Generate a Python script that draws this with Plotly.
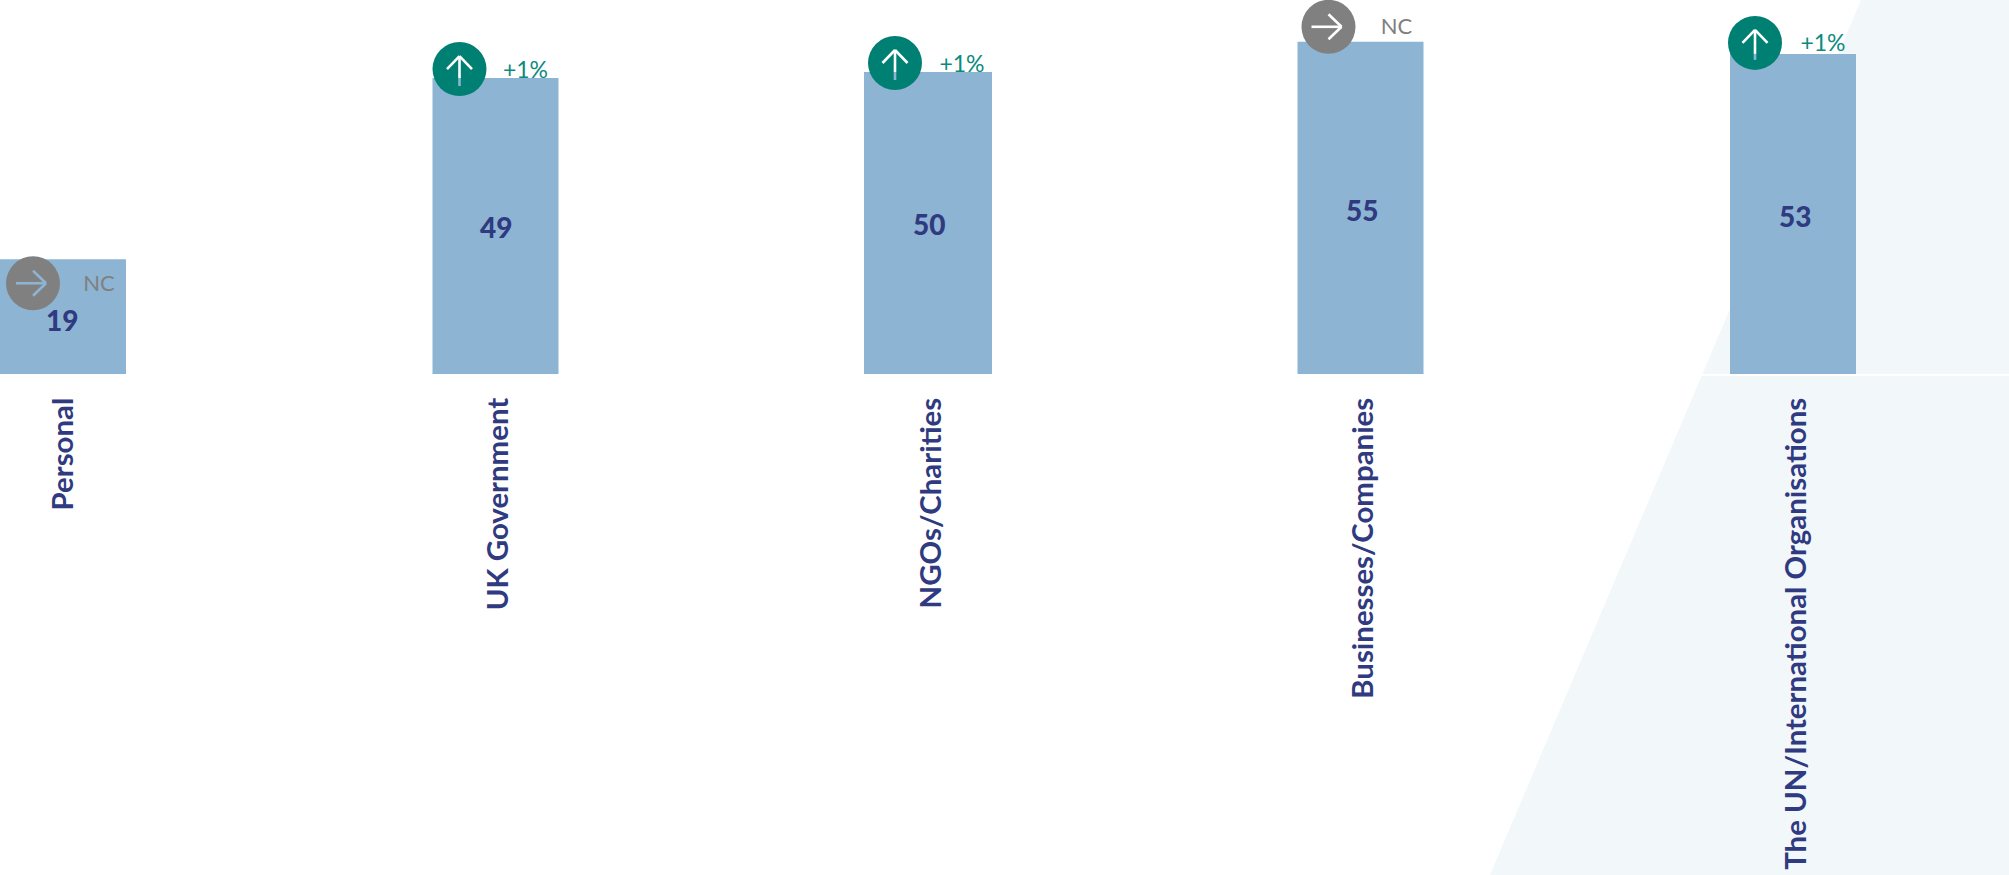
import plotly.graph_objects as go

# ---- data ----
categories = ["Personal", "UK Government", "NGOs/Charities", "Businesses/Companies",
              "The UN/International Organisations"]
values = [19, 49, 50, 55, 53]
change_labels = ["NC", "+1%", "+1%", "NC", "+1%"]
directions = ["right", "up", "up", "right", "up"]

# ---- styles / layout ----
W, H = 2009, 875
BASE_PX = 374
PX_PER_UNIT = 6.04
FIRST_CENTER_PX, STEP_PX = 63, 432.5
BAR_W_PX = [126, 126, 128, 126, 126]
NAVY, BAR, TEAL, GREY, BAND = "#2F3A80", "#8DB4D2", "#007F73", "#808080", "#F2F7FA"
TEAL_TXT = "#0C8A7D"
FONT = "Lato"
TICK_SHIFT_PX = [0.5, 3, 3, 3, 3]

# badge offset from the bar's top-left corner, px (right, down)
badge_dx = [33, 27, 31, 31, 25]
badge_dy = [24, -9, -9, -15, -11]
# change label offset from the bar's top-right corner, px (left, down)
label_dx = [27, 33, 30, 27, 33]
label_dy = [26, -6, -6, -13, -9]
# value label nudges, px
value_dx = [-1, 0, 1, 1, 2]
value_dy = [3, 1, 1, 2, 2]

ymax = BASE_PX / PX_PER_UNIT
x_of_px = lambda p: (p - FIRST_CENTER_PX) / STEP_PX
y_of_px = lambda p: (BASE_PX - p) / PX_PER_UNIT
xs = list(range(len(values)))

fig = go.Figure()

fig.add_trace(go.Bar(
    x=xs, y=values, width=[w / STEP_PX for w in BAR_W_PX], marker=dict(color=BAR, line_width=0),
    hoverinfo="skip",
))

cxs, cys, ccols, tx, ty = [], [], [], [], []
for i, v in enumerate(values):
    center = FIRST_CENTER_PX + i * STEP_PX
    left, right = center - BAR_W_PX[i] / 2, center + BAR_W_PX[i] / 2
    top = BASE_PX - v * PX_PER_UNIT
    cx, cy = left + badge_dx[i], top + badge_dy[i]
    cxs.append(x_of_px(cx)); cys.append(y_of_px(cy))
    ccols.append(TEAL if directions[i] == "up" else GREY)
    tx.append(x_of_px(right - label_dx[i])); ty.append(y_of_px(top + label_dy[i]))

fig.add_trace(go.Scatter(x=cxs, y=cys, mode="markers", hoverinfo="skip",
                         marker=dict(size=54, color=ccols, line_width=0)))

# arrow glyphs: a cut-out, so they show white above the bar and bar colour over it
ARROWS = {
    "up": [[(0, 17), (0, -13)], [(-12.5, 0), (0, -13), (12.5, 0)]],
    "right": [[(-17, 0), (13, 0)], [(0, -12.5), (13, 0), (0, 12.5)]],
}
def split_at(p, q, yt):
    if (p[1] - yt) * (q[1] - yt) >= 0:
        return [(p, q)]
    t = (yt - p[1]) / (q[1] - p[1])
    m = (p[0] + t * (q[0] - p[0]), yt)
    return [(p, m), (m, q)]

for i, v in enumerate(values):
    center = FIRST_CENTER_PX + i * STEP_PX
    top = BASE_PX - v * PX_PER_UNIT
    cx, cy = center - BAR_W_PX[i] / 2 + badge_dx[i], top + badge_dy[i]
    for stroke in ARROWS[directions[i]]:
        pts = [(cx + a, cy + b) for a, b in stroke]
        for p, q in zip(pts, pts[1:]):
            for a, b in split_at(p, q, top):
                col = BAR if (a[1] + b[1]) / 2 > top else "white"
                fig.add_trace(go.Scatter(
                    x=[x_of_px(a[0]), x_of_px(b[0])], y=[y_of_px(a[1]), y_of_px(b[1])],
                    mode="lines", line=dict(color=col, width=2.6), hoverinfo="skip"))

fig.add_trace(go.Scatter(
    x=tx, y=ty, mode="text", text=change_labels, textposition="middle center", hoverinfo="skip",
    textfont=dict(family=FONT, size=[22, 23, 23, 22, 23],
                  color=[TEAL_TXT if c.startswith("+") else GREY for c in change_labels]),
))

value_annotations = [
    dict(x=i, y=v / 2, xref="x", yref="y", text=str(v), showarrow=False,
         xshift=value_dx[i], yshift=-value_dy[i],
         font=dict(family=FONT, size=28, color=NAVY, weight=900))
    for i, v in enumerate(values)
]

# pale diagonal band behind the chart
def P(px, py):
    return f"{px / W:.5f} {(BASE_PX - py) / BASE_PX:.5f}"
band = f"M {P(1861, 0)} L {P(W, 0)} L {P(W, H)} L {P(1490, H)} Z"

fig.update_layout(
    width=W, height=H, showlegend=False, autosize=False,
    margin=dict(l=0, r=0, t=0, b=H - BASE_PX, pad=0),
    paper_bgcolor="white", plot_bgcolor="rgba(0,0,0,0)",
    annotations=value_annotations,
    shapes=[dict(type="path", path=band, xref="paper", yref="paper",
                 fillcolor=BAND, line_width=0, layer="below")],
    xaxis=dict(range=[x_of_px(0), x_of_px(W)], tickmode="array",
               tickvals=[x + TICK_SHIFT_PX[x] / STEP_PX for x in xs], ticktext=categories,
               tickangle=-90, ticks="", ticklabelstandoff=10, showgrid=False, zeroline=False,
               showline=True, linecolor="white", linewidth=2, automargin=False,
               tickfont=dict(family=FONT, size=29.4, color=NAVY, weight=700)),
    yaxis=dict(range=[0, ymax], visible=False, showgrid=False, zeroline=False, automargin=False),
)

fig.write_html("out.html", config={"displayModeBar": False},
               post_script="document.body.style.margin='0';document.body.style.overflow='hidden';")
